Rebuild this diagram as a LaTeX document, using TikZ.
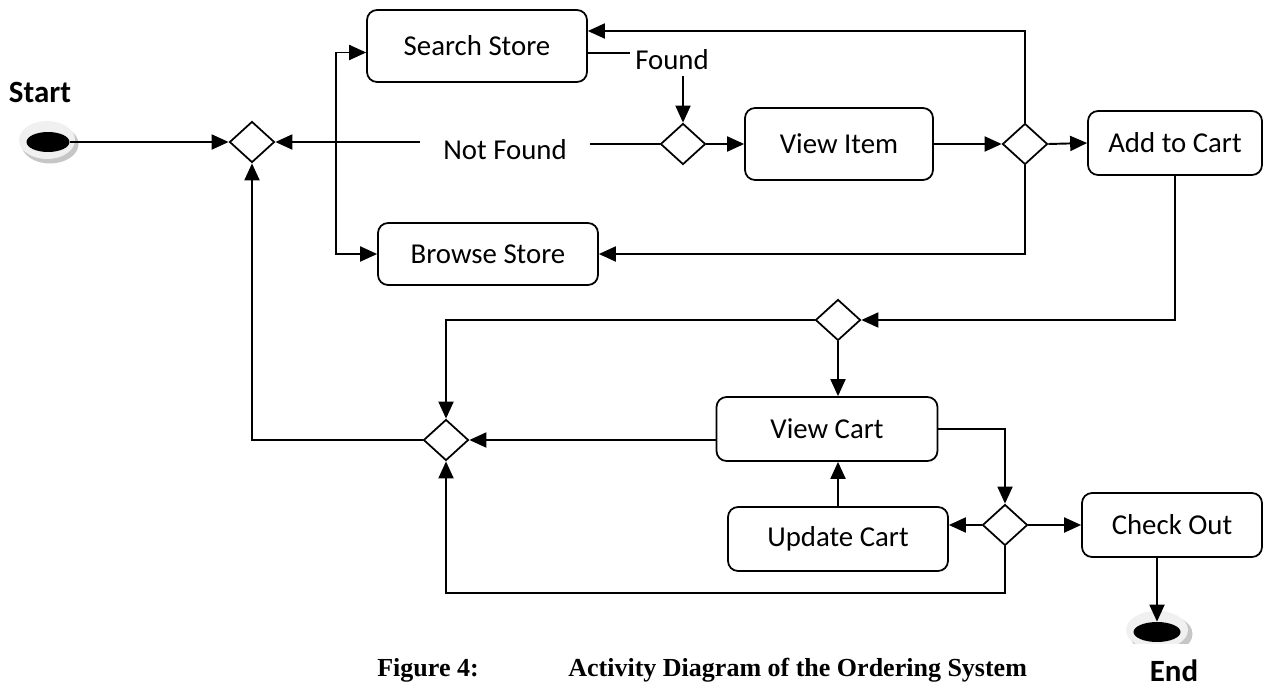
\documentclass[tikz,border=0pt]{standalone}
\usepackage{fontspec}
\setmainfont{Carlito}
\newfontfamily\captionfont{Liberation Serif}
\usetikzlibrary{shapes.geometric,arrows.meta}

\tikzstyle{actNode}=[draw,rounded corners=0.2cm,line width=1pt,font=\fontsize{16.4}{19}\selectfont]
\tikzstyle{decNode}=[diamond,draw,line width=1pt,inner sep=0pt,minimum width=0.9cm,minimum height=0.82cm]
\tikzstyle{dotNode}=[ellipse,fill=black,inner sep=0pt,minimum height=0.4cm]
\tikzstyle{flowLine}=[draw,line width=1.1pt,-{Triangle[length=0.34cm,width=0.3cm]}]
\tikzstyle{plainLine}=[draw,line width=1.1pt]
\tikzstyle{labelText}=[font=\fontsize{16.4}{19}\selectfont]
\tikzstyle{markText}=[font=\bfseries\fontsize{17.6}{20}\selectfont]
\tikzstyle{captionText}=[anchor=west,inner xsep=0pt,font=\captionfont\bfseries\fontsize{14.8}{17}\selectfont]

\begin{document}
\begin{tikzpicture}[x=0.02cm,y=-0.02cm]
  \useasboundingbox (0,0) rectangle (1264,690);

  % start and end markers
  \fill[gray!45] (50,144) ellipse (0.57cm and 0.39cm);
  \fill[gray!12] (47,140) ellipse (0.56cm and 0.38cm);
  \node[dotNode,minimum width=0.86cm] (start) at (48,142) {};
  \node[markText] (startLbl) at (40,92) {Start};

  \begin{scope}
    \clip (1100,600) rectangle (1220,643);
    \fill[gray!45] (1161,634) ellipse (0.63cm and 0.4cm);
    \fill[gray!12] (1157,630) ellipse (0.62cm and 0.38cm);
  \end{scope}
  \node[dotNode,minimum width=0.94cm] (finish) at (1157,632) {};
  \node[markText] (finishLbl) at (1174,671) {End};

  % activities
  \node[actNode,minimum width=4.4cm,minimum height=1.44cm] (search) at (477,46) {Search Store};
  \node[actNode,minimum width=4.4cm,minimum height=1.24cm] (browse) at (488,254) {Browse Store};
  \node[actNode,minimum width=3.76cm,minimum height=1.44cm] (viewItem) at (839,144) {View Item};
  \node[actNode,minimum width=3.48cm,minimum height=1.28cm] (addCart) at (1175,143) {Add to Cart};
  \node[actNode,minimum width=4.42cm,minimum height=1.28cm] (viewCart) at (827,429) {View Cart};
  \node[actNode,minimum width=4.4cm,minimum height=1.28cm] (updCart) at (838,539) {Update Cart};
  \node[actNode,minimum width=3.6cm,minimum height=1.28cm] (checkOut) at (1172,525) {Check Out};

  % decisions
  \node[decNode] (d1) at (252,142) {};
  \node[decNode] (d2) at (683,144) {};
  \node[decNode] (d3) at (1025,144) {};
  \node[decNode] (d4) at (838,320) {};
  \node[decNode] (d5) at (446,440) {};
  \node[decNode] (d6) at (1005,525) {};

  % guard labels
  \node[labelText] (found) at (672,60) {Found};
  \node[labelText,inner xsep=0.46cm] (notFound) at (505,150) {Not Found};

  \coordinate (fork) at (336,143);
  \coordinate (foundEnd) at (630,53);
  \coordinate (low) at (0,593);

  \path[flowLine] (start.east) -- (d1.west);
  \path[plainLine] (search.east |- foundEnd) -- (foundEnd);
  \path[flowLine] (d2.north |- found.south) -- (d2.north);
  \path[plainLine] (d2.west) -- (d2.west -| notFound.east);
  \path[flowLine] (notFound.west |- d1.east) -- (d1.east);
  \path[flowLine] (fork) |- ([yshift=-0.13cm]search.west);
  \path[flowLine] (fork) |- (browse.west);
  \path[flowLine] (d2.east) -- (viewItem.west);
  \path[flowLine] (viewItem.east) -- (d3.west);
  \path[flowLine] (d3.east) -- (addCart.west);
  \path[flowLine] (d3.north) |- ([yshift=0.3cm]search.east);
  \path[flowLine] (d3.south) |- (browse.east);
  \path[flowLine] (addCart.south) |- (d4.east);
  \path[flowLine] (d4.west) -| (d5.north);
  \path[flowLine] (d4.south) -- (d4.south |- viewCart.north);
  \path[flowLine] (viewCart.west |- d5.east) -- (d5.east);
  \path[flowLine] (d5.west) -| (d1.south);
  \path[flowLine] (viewCart.east) -| (d6.north);
  \path[flowLine] (d6.west) -- (d6.west -| updCart.east);
  \path[flowLine] (updCart.north) -- (updCart.north |- viewCart.south);
  \path[flowLine] (d6.south) |- (low -| d5.south) -- (d5.south);
  \path[flowLine] (d6.east) -- (checkOut.west);
  \path[flowLine] (finish.north |- checkOut.south) -- (finish.north);

  % caption
  \node[captionText] (figNum) at (377,670) {Figure 4:};
  \node[captionText] (figTitle) at (568,670) {Activity Diagram of the Ordering System};

\end{tikzpicture}
\end{document}
